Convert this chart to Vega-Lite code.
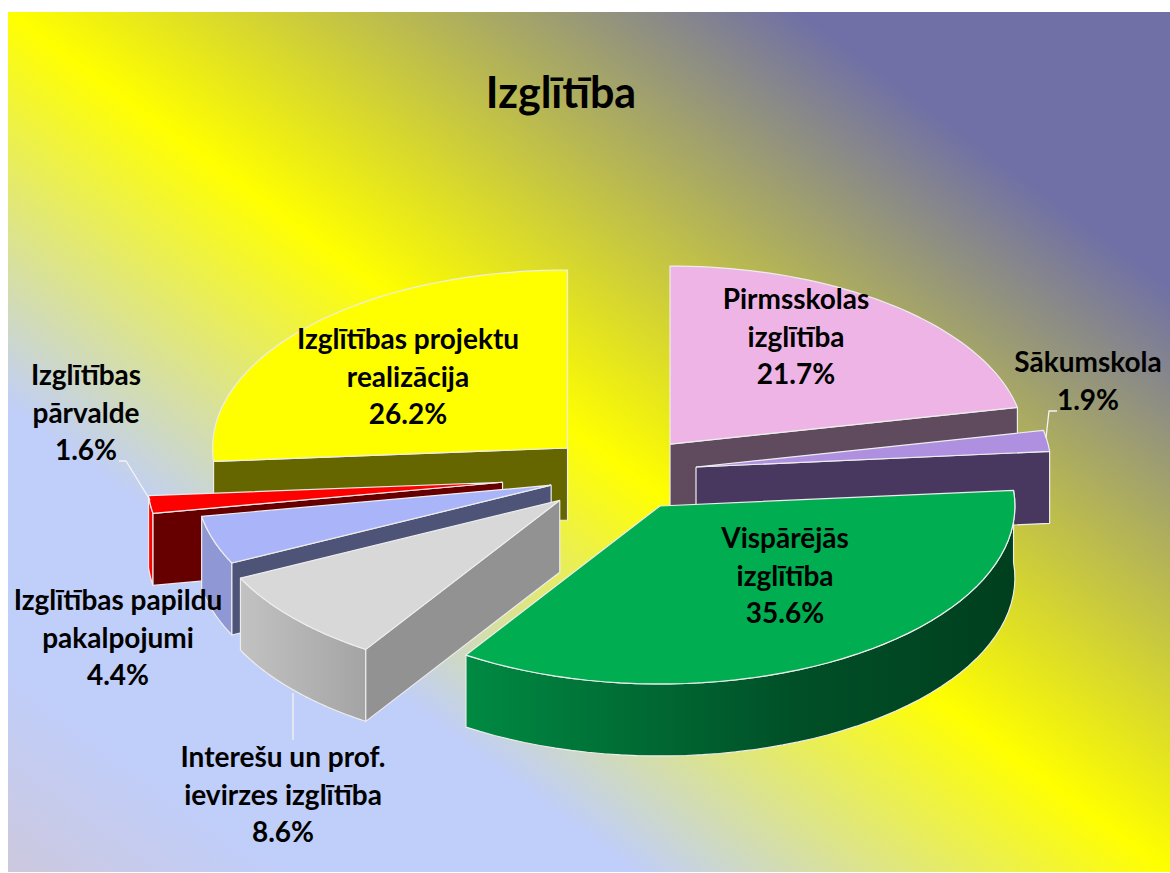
{
"$schema":"https://vega.github.io/schema/vega-lite/v6.json",
"width":1162,"height":860,
"autosize":"none",
"padding":{"left":8,"top":12,"right":0,"bottom":1},
"background":"white",
"title":{"text":"Izglītība","font":"Lato","fontSize":43,"fontWeight":"bold","color":"#000000","anchor":"middle","frame":"group","dx":-28,"dy":109},
"view":{"stroke":null,"fill":{"gradient":"linear","x1":1,"y1":0,"x2":0,"y2":1,"stops":[{"offset":0,"color":"#7070A6"},{"offset":0.16,"color":"#7070A6"},{"offset":0.5,"color":"#FFFF00"},{"offset":0.73,"color":"#C0CEFA"},{"offset":0.88,"color":"#C0CEFA"},{"offset":1,"color":"#CCC8DE"}]}},
"resolve":{"scale":{"fill":"independent"}},
"params":[
{"name":"rx","value":355},{"name":"ry","value":178},{"name":"depth","value":72},
{"name":"explode","value":{"Pirmsskolas izglītība":[0.237,0.224],"Sākumskola":[0.225,0.306],"Vispārējās izglītība":[0.235,0.203],"Interešu un prof. ievirzes izglītība":[0.215,0.215],"Izglītības papildu pakalpojumi":[0.195,0.185],"Izglītības pārvalde":[0.325,0.325],"Izglītības projektu realizācija":[0.19,0.223]}},
{"name":"labelAt","value":{"Pirmsskolas izglītība":[179,174],"Sākumskola":[471,111],"Vispārējās izglītība":[168,-65],"Interešu un prof. ievirzes izglītība":[-334,-284],"Izglītības papildu pakalpojumi":[-499,-127],"Izglītības pārvalde":[-531,98],"Izglītības projektu realizācija":[-209,134]}},
{"name":"leaders","value":{"Sākumskola":[[429,37],[432,64],[440,64]],"Izglītības pārvalde":[[-498,14],[-491,14],[-467,-25]],"Interešu un prof. ievirzes izglītība":[[-324,-218],[-324,-265]]}}
],
"data":{"values":[
{"slice":"Izglītības projektu realizācija","lines":"Izglītības projektu|realizācija","share":26.2,"rank":7},
{"slice":"Pirmsskolas izglītība","lines":"Pirmsskolas|izglītība","share":21.7,"rank":1},
{"slice":"Sākumskola","lines":"Sākumskola","share":1.9,"rank":2},
{"slice":"Izglītības pārvalde","lines":"Izglītības|pārvalde","share":1.6,"rank":6},
{"slice":"Izglītības papildu pakalpojumi","lines":"Izglītības papildu|pakalpojumi","share":4.4,"rank":5},
{"slice":"Interešu un prof. ievirzes izglītība","lines":"Interešu un prof.|ievirzes izglītība","share":8.6,"rank":4},
{"slice":"Vispārējās izglītība","lines":"Vispārējās|izglītība","share":35.6,"rank":3}
]},
"transform":[
{"window":[{"op":"sum","field":"share","as":"cum"}],"sort":[{"field":"rank","order":"ascending"}]},
{"calculate":"(datum.cum-datum.share)*2*PI/100","as":"a0"},
{"calculate":"datum.cum*2*PI/100","as":"a1"},
{"calculate":"(datum.a0+datum.a1)/2","as":"mid"},
{"calculate":"rx*explode[datum.slice][0]*sin(datum.mid)","as":"ax"},
{"calculate":"ry*explode[datum.slice][1]*cos(datum.mid)","as":"ay"},
{"calculate":"['wall','start','end','top']","as":"face"},
{"flatten":["face"]},
{"filter":"datum.face=='top' || (datum.face=='start' && sin(datum.a0)<0) || (datum.face=='end' && sin(datum.a1)>0) || (datum.face=='wall' && datum.a1>PI/2 && datum.a0<1.5*PI && datum.rank<7)"},
{"calculate":"datum.rank+datum.face","as":"key"},
{"calculate":"datum.face=='top'?sequence(0,51):datum.face=='wall'?sequence(0,99):sequence(0,5)","as":"idx"},
{"flatten":["idx"]},
{"calculate":"datum.face=='top'?(datum.idx-1)/48:datum.face=='wall'?(datum.idx<=48?datum.idx/48:datum.idx<=97?(97-datum.idx)/48:0):datum.face=='end'?1:0","as":"t"},
{"calculate":"datum.face=='top'?((datum.idx>=1&&datum.idx<=49)?1:0):datum.face=='wall'?1:((datum.idx==1||datum.idx==2)?1:0)","as":"r"},
{"calculate":"datum.face=='wall'?((datum.idx>=49&&datum.idx<=97)?1:0):(datum.face=='top'?0:((datum.idx==2||datum.idx==3)?1:0))","as":"z"},
{"calculate":"datum.a0+datum.t*(datum.a1-datum.a0)","as":"ang"},
{"calculate":"datum.ax+datum.r*rx*sin(datum.ang)","as":"px"},
{"calculate":"datum.ay+datum.r*ry*cos(datum.ang)-datum.z*depth","as":"py"}
],
"encoding":{
"x":{"field":"px","type":"quantitative","scale":{"domain":[-609,553],"nice":false,"zero":false},"axis":null},
"y":{"field":"py","type":"quantitative","scale":{"domain":[-397,463],"nice":false,"zero":false},"axis":null}
},
"layer":[
{"transform":[{"filter":"datum.rank>=5"}],
"mark":{"type":"line","stroke":"#EDEDED","strokeWidth":1.2,"strokeJoin":"round"},
"encoding":{
"order":{"field":"idx","type":"quantitative"},
"fill":{"field":"key","type":"nominal","legend":null,"scale":{
"domain":["7start","7top","6wall","6start","6top","5wall","5start","5top"],
"range":["#666600","#FFFF00","#FF0000","#660000","#FF0000","#8F98D4","#4D5478","#AAB4F8"]}}
}},
{"transform":[{"filter":"datum.rank<=2"}],
"mark":{"type":"line","stroke":"#EDEDED","strokeWidth":1.2,"strokeJoin":"round"},
"encoding":{
"order":{"field":"idx","type":"quantitative"},
"fill":{"field":"key","type":"nominal","legend":null,"scale":{
"domain":["1end","1top","2end","2top"],
"range":["#5F4A5E","#EEB4E6","#483860","#AE8FE0"]}}
}},
{"transform":[{"filter":"datum.key=='4wall'"}],
"mark":{"type":"line","stroke":"#EDEDED","strokeWidth":1.2,"strokeJoin":"round","fill":{"gradient":"linear","x1":0,"y1":0,"x2":1,"y2":0,"stops":[{"offset":0,"color":"#C2C2C2"},{"offset":1,"color":"#A4A4A4"}]}},
"encoding":{"order":{"field":"idx","type":"quantitative"}}},
{"transform":[{"filter":"datum.key=='4start' || datum.key=='4top'"}],
"mark":{"type":"line","stroke":"#EDEDED","strokeWidth":1.2,"strokeJoin":"round"},
"encoding":{
"order":{"field":"idx","type":"quantitative"},
"fill":{"field":"key","type":"nominal","legend":null,"scale":{"domain":["4start","4top"],"range":["#929292","#D8D8D8"]}}
}},
{"transform":[{"filter":"datum.key=='3wall'"}],
"mark":{"type":"line","stroke":"#EDEDED","strokeWidth":1.2,"strokeJoin":"round","fill":{"gradient":"linear","x1":0,"y1":0,"x2":1,"y2":0,"stops":[{"offset":0,"color":"#008A42"},{"offset":0.6,"color":"#004F27"},{"offset":1,"color":"#003F1E"}]}},
"encoding":{"order":{"field":"idx","type":"quantitative"}}},
{"transform":[{"filter":"datum.key=='3top'"}],
"mark":{"type":"line","stroke":"#EDEDED","strokeWidth":1.2,"strokeJoin":"round","fill":"#00AD50"},
"encoding":{"order":{"field":"idx","type":"quantitative"}}},
{"transform":[
{"filter":"datum.face=='top' && datum.idx==0 && isValid(leaders[datum.slice])"},
{"calculate":"leaders[datum.slice]","as":"pt"},
{"flatten":["pt"]},
{"window":[{"op":"row_number","as":"n"}],"groupby":["slice"]},
{"calculate":"datum.pt[0]","as":"px"},
{"calculate":"datum.pt[1]","as":"py"}
],
"mark":{"type":"line","stroke":"#F4F4F4","strokeWidth":1.3},
"encoding":{
"detail":{"field":"slice"},
"order":{"field":"n","type":"quantitative"}
}},
{"transform":[
{"filter":"datum.face=='top' && datum.idx==0"},
{"calculate":"labelAt[datum.slice][0]","as":"px"},
{"calculate":"labelAt[datum.slice][1]","as":"py"},
{"calculate":"datum.lines+'|'+format(datum.share,'.1f')+'%'","as":"txt"}
],
"mark":{"type":"text","font":"Lato","fontWeight":"bold","fontSize":28,"color":"#000000","align":"center","baseline":"middle","lineBreak":"|","lineHeight":37.5},
"encoding":{"text":{"field":"txt"}}
}
]
}
